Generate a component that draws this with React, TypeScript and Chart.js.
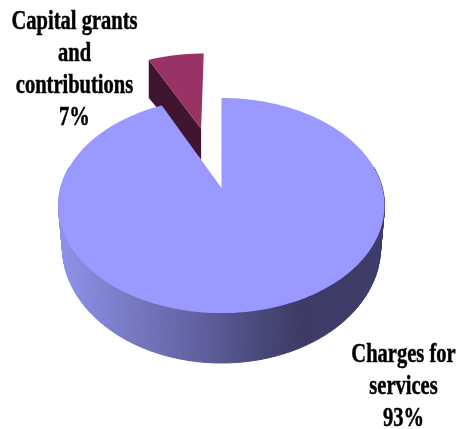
import React, { useEffect, useRef } from "react";
import { Chart, registerables } from "chart.js";

Chart.register(...registerables);

const categories = [
  ["Charges for", "services"],
  ["Capital grants", "and", "contributions"],
];
const seriesValues = [93, 7];
const faceColors = ["#9999FF", "#993366"];
const sideColors = ["#9999FF", "#3F1530"];
const wallStops: [number, string][] = [
  [0, "#8E92EA"],
  [0.22, "#7679C2"],
  [0.44, "#5F5F9E"],
  [0.62, "#484878"],
  [0.74, "#3D3B66"],
  [1, "#3D3C6A"],
];
const labelAnchors = [
  { x: 403.5, y: 362 },
  { x: 74.5, y: 29 },
];

const CX = 221.5;
const P = 0.163;
const TOP = { cy: 188, rx: 160.8, ry: 104.7 };
const BASE = { cy: 228, rx: 157, ry: 113 };
const SMALL_BASE = { cy: 213, rx: 160.8, ry: 93.9 };
const LINE_GAP = 32;
const FONT = 'bold 27px "Liberation Serif"';
const TEXT_SQUEEZE = 0.76;

type Plane = { cy: number; rx: number; ry: number };
const project = (u: number, v: number, pl: Plane): [number, number] => {
  const s = 1 / (1 - P * v);
  return [CX + pl.rx * u * s, pl.cy + pl.ry * v * s];
};

const pie3d = {
  id: "pie3d",
  beforeDatasetsDraw(chart: any) {
    const ctx: CanvasRenderingContext2D = chart.ctx;
    const arcs = chart.getDatasetMeta(0).data;
    const geom = arcs.map((arc: any) => {
      const p = arc.getProps(["startAngle", "endAngle", "outerRadius"], true);
      const mid = (p.startAngle + p.endAngle) / 2;
      const off = (arc.options.offset || 0) / p.outerRadius;
      const ox = Math.cos(mid) * off;
      const oy = Math.sin(mid) * off;
      const n = 240;
      const rim: [number, number][] = [];
      for (let i = 0; i <= n; i++) {
        const a = p.startAngle + ((p.endAngle - p.startAngle) * i) / n;
        rim.push([ox + Math.cos(a), oy + Math.sin(a)]);
      }
      return { ox, oy, rim };
    });

    const poly = (pts: [number, number][]) => {
      ctx.beginPath();
      pts.forEach(([x, y], i) => (i ? ctx.lineTo(x, y) : ctx.moveTo(x, y)));
      ctx.closePath();
    };

    // exploded slice first: it sits behind the main one
    const small = geom[1];
    const first = small.rim[0];
    poly([
      project(small.ox, small.oy, TOP),
      project(first[0], first[1], TOP),
      project(first[0], first[1], SMALL_BASE),
      project(small.ox, small.oy, SMALL_BASE),
    ]);
    ctx.fillStyle = sideColors[1];
    ctx.fill();
    poly([project(small.ox, small.oy, TOP), ...small.rim.map(([u, v]: number[]) => project(u, v, TOP))]);
    ctx.fillStyle = faceColors[1];
    ctx.fill();

    // main slice: outer wall, then top face
    const grad = ctx.createLinearGradient(60, 0, 385, 0);
    wallStops.forEach(([o, c]) => grad.addColorStop(o, c));
    ctx.fillStyle = grad;
    ctx.strokeStyle = grad;
    ctx.lineWidth = 1;
    const main = geom[0];
    for (let i = 0; i < main.rim.length - 1; i++) {
      const [u0, v0] = main.rim[i];
      const [u1, v1] = main.rim[i + 1];
      if (v0 < -0.2 && v1 < -0.2) continue;
      poly([project(u0, v0, TOP), project(u1, v1, TOP), project(u1, v1, BASE), project(u0, v0, BASE)]);
      ctx.fill();
      ctx.stroke();
    }
    poly([project(main.ox, main.oy, TOP), ...main.rim.map(([u, v]: number[]) => project(u, v, TOP))]);
    ctx.fillStyle = faceColors[0];
    ctx.fill();

    // labels
    ctx.fillStyle = "#000";
    ctx.strokeStyle = "#000";
    ctx.lineWidth = 0.5;
    ctx.font = FONT;
    ctx.textAlign = "center";
    ctx.textBaseline = "alphabetic";
    const total = seriesValues.reduce((a, b) => a + b, 0);
    categories.forEach((lines, i) => {
      const all = [...lines, `${Math.round((seriesValues[i] / total) * 100)}%`];
      all.forEach((t, j) => {
        ctx.save();
        ctx.translate(labelAnchors[i].x, labelAnchors[i].y + j * LINE_GAP);
        ctx.scale(TEXT_SQUEEZE, 1);
        ctx.fillText(t, 0, 0);
        ctx.strokeText(t, 0, 0);
        ctx.restore();
      });
    });
    return false;
  },
};

export default function App() {
  const ref = useRef<HTMLCanvasElement>(null);
  useEffect(() => {
    const chart = new Chart(ref.current!, {
      type: "pie",
      data: {
        labels: categories.map((c) => c.join(" ")),
        datasets: [
          {
            data: seriesValues,
            backgroundColor: faceColors,
            borderWidth: 0,
            offset: [0, 104],
          },
        ],
      },
      options: {
        responsive: false,
        animation: false,
        devicePixelRatio: 1,
        layout: { padding: 0 },
        plugins: { legend: { display: false }, tooltip: { enabled: false } },
      },
      plugins: [pie3d],
    } as any);
    return () => chart.destroy();
  }, []);
  return (
    <canvas
      ref={ref}
      width={456}
      height={429}
      style={{ position: "absolute", left: 0, top: 0, width: 456, height: 429 }}
    />
  );
}
